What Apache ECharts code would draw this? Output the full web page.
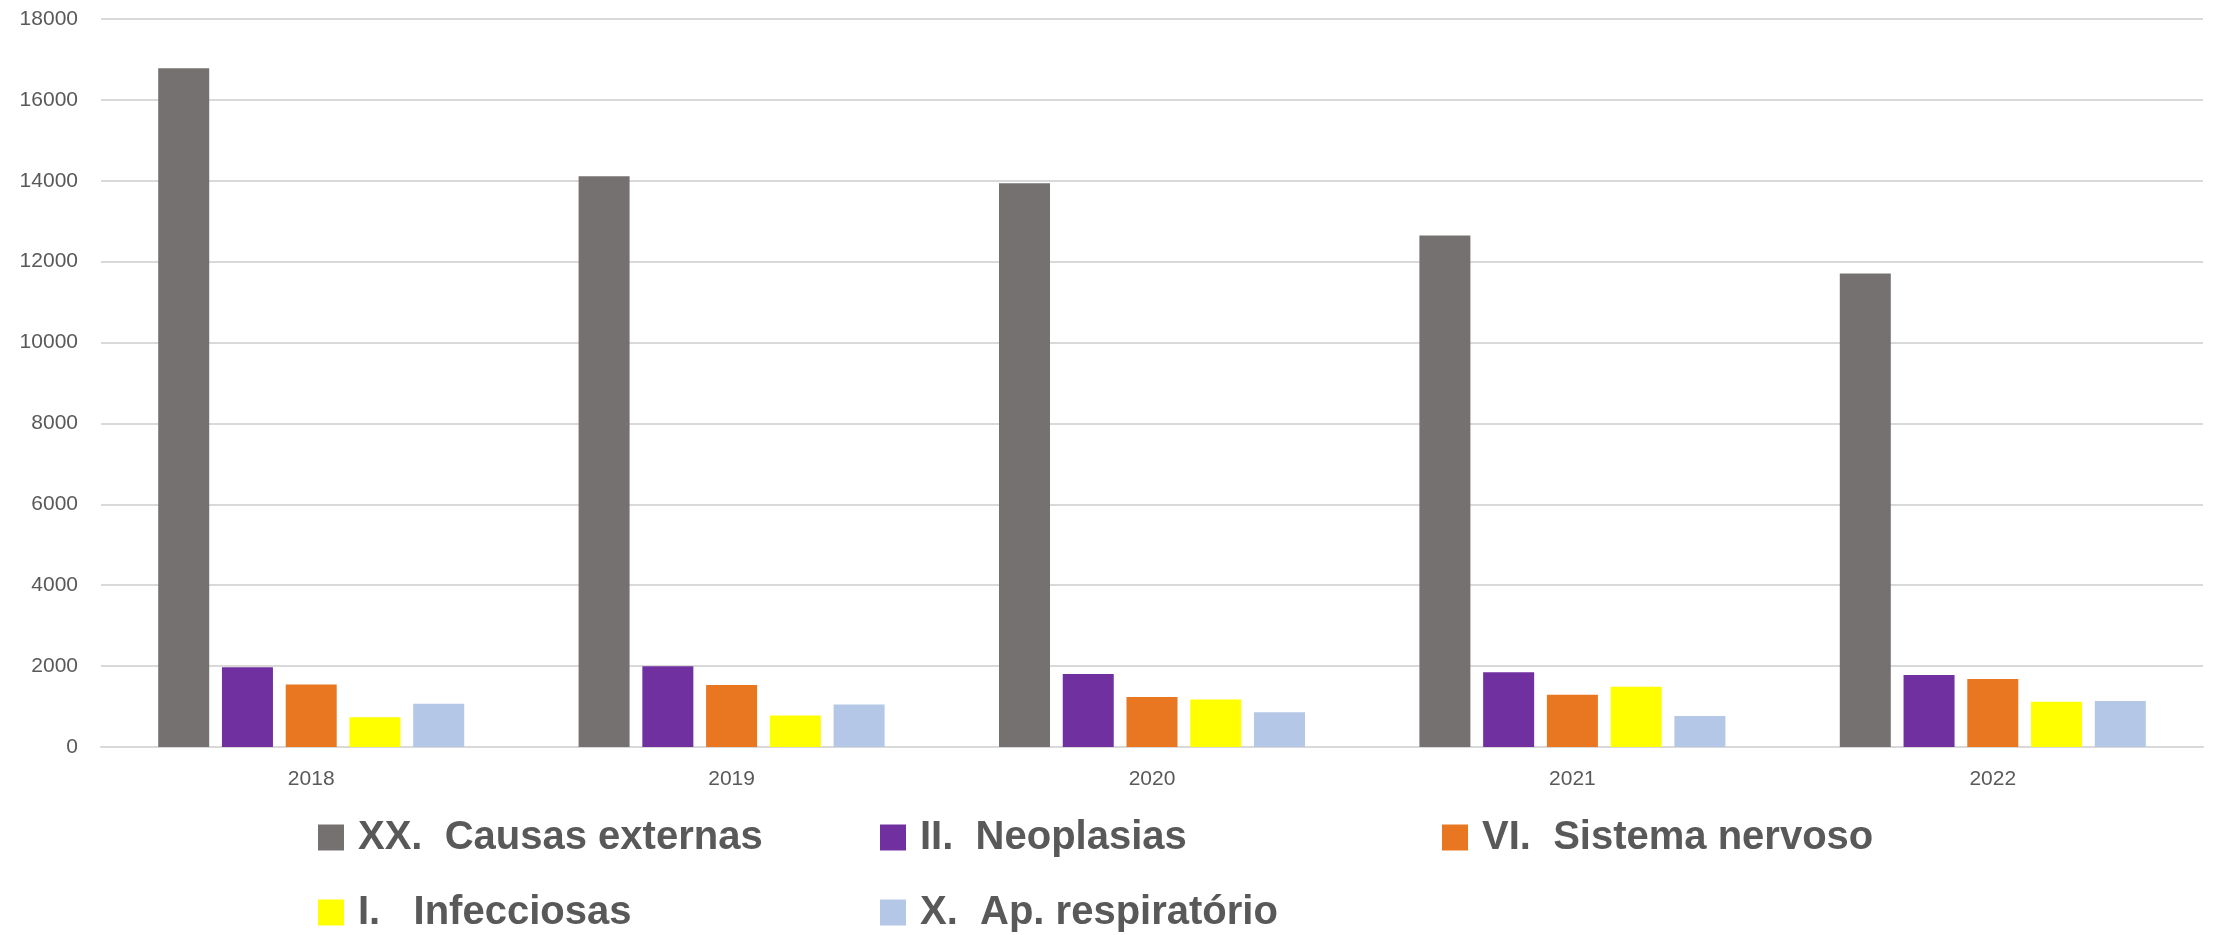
<!DOCTYPE html>
<html>
<head>
<meta charset="utf-8">
<script src="https://cdn.jsdelivr.net/npm/echarts@6/dist/echarts.min.js"></script>
<style>
  html, body { margin: 0; padding: 0; background: #ffffff; }
  #chart { width: 2216px; height: 935px; }
</style>
</head>
<body>
<div id="chart"></div>
<script>
// Years on the category axis
const years = ['2018', '2019', '2020', '2021', '2022'];

// Cause-of-death groups (series names as shown in the legend)
const seriesNames = [
  'XX.  Causas externas',
  'II.  Neoplasias',
  'VI.  Sistema nervoso',
  'I.   Infecciosas',
  'X.  Ap. respiratório'
];

// Values per group, one per year
const causasExternas   = [16780, 14110, 13940, 12650, 11710];
const neoplasias       = [1970, 1995, 1807, 1850, 1780];
const sistemaNervoso   = [1543, 1536, 1239, 1291, 1680];
const infecciosas      = [736, 778, 1173, 1490, 1117];
const apRespiratorio   = [1067, 1049, 860, 768, 1140];

// Value axis ticks
const yTicks = { min: 0, max: 18000, interval: 2000 };

const seriesData = [causasExternas, neoplasias, sistemaNervoso, infecciosas, apRespiratorio];
const colors = ['#767171', '#7030A0', '#E97620', '#FFFF00', '#B4C7E7'];

const chart = echarts.init(document.getElementById('chart'), null, { renderer: 'canvas' });

chart.setOption({
  animation: false,
  backgroundColor: '#ffffff',
  color: colors,
  grid: { left: 101, right: 13, top: 19, bottom: 188, containLabel: false },
  xAxis: {
    type: 'category',
    data: years,
    axisLine: { show: true, lineStyle: { color: '#d9d9d9', width: 2 } },
    axisTick: { show: false },
    axisLabel: {
      color: '#595959',
      fontFamily: 'Liberation Sans, Arial, sans-serif',
      fontSize: 21,
      margin: 22
    }
  },
  yAxis: {
    type: 'value',
    min: yTicks.min,
    max: yTicks.max,
    interval: yTicks.interval,
    axisLine: { show: false },
    axisTick: { show: false },
    splitLine: { lineStyle: { color: '#d9d9d9', width: 2 } },
    axisLabel: {
      color: '#595959',
      fontFamily: 'Liberation Sans, Arial, sans-serif',
      fontSize: 21,
      margin: 23,
      formatter: (v) => String(v)
    }
  },
  legend: {
    data: seriesNames,
    left: 318,
    top: 810,
    width: 1700,
    padding: 0,
    itemGap: 20,
    itemWidth: 26,
    itemHeight: 26,
    icon: 'rect',
    textStyle: {
      color: '#595959',
      fontFamily: 'Liberation Sans, Arial, sans-serif',
      fontWeight: 'bold',
      fontSize: 40,
      width: 502,
      lineHeight: 55,
      padding: [0, 0, 0, 9]
    }
  },
  series: seriesNames.map((name, i) => ({
    name: name,
    type: 'bar',
    data: seriesData[i],
    barWidth: 51,
    barGap: '25%',
    itemStyle: { color: colors[i] }
  }))
});
</script>
</body>
</html>
